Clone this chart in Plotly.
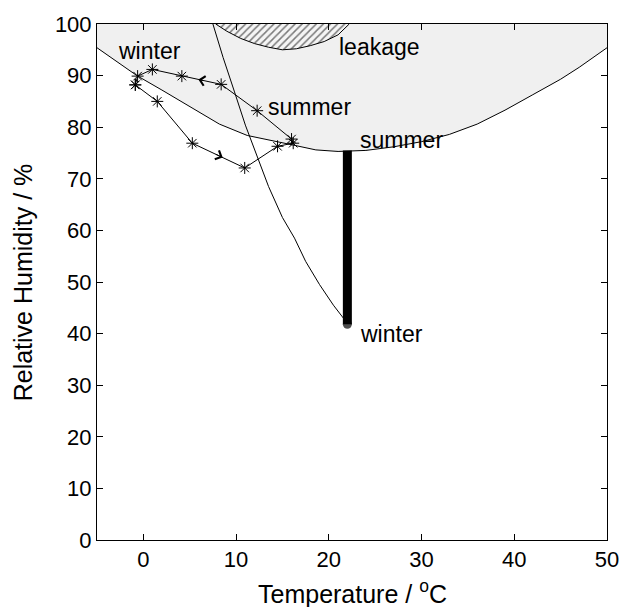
import plotly.graph_objects as go

# ---------------- data ----------------
# lower boundary of shaded region (Temperature degC, RH %)
boundary_T = [-5, -2, -0.7, 2, 5, 8.2, 11.2, 14, 16, 18.6, 21, 24, 27, 30, 33, 36, 39, 42, 45, 47, 50]
boundary_RH = [95.4, 91.6, 90.0, 87.2, 84.0, 80.6, 78.4, 77.4, 76.6, 75.6, 75.3, 75.5, 76.2, 77.2, 78.6, 80.6, 83.3, 86.3, 89.3, 91.6, 95.4]

# hatched "leakage" region
leak_T = [7.8, 9.0, 10.5, 12.0, 13.5, 15.0, 16.5, 18.0, 19.5, 21.0, 22.2]
leak_RH = [100, 98.6, 97.2, 96.2, 95.5, 95.0, 95.2, 95.8, 96.6, 97.9, 100]

# monthly loop (spring path then autumn path)
loop_T = [-0.87, 1.5, 5.28, 10.93, 14.47, 16.16, 15.98, 12.27, 8.39, 4.15, 0.97, -0.62]
loop_RH = [88.2, 85.0, 76.9, 72.1, 76.3, 76.9, 77.7, 83.2, 88.3, 89.9, 91.2, 89.9]

# path from winter indoor state upward
path_T = [22.0, 20.5, 19.0, 17.5, 16.3, 15.0, 13.5, 12.3, 11.0, 9.8, 8.6, 7.5]
path_RH = [42.0, 45.5, 49.5, 54.0, 58.5, 62.5, 68.5, 74.2, 80.4, 87.0, 93.5, 100.0]

# indoor range bar
bar_T = [22.0, 22.0]
bar_RH = [41.8, 75.5]

# arrows: segment start index -> arrow at segment midpoint along path direction
loop_arrow_segments = [2, 8]
path_arrow_segments = [3]

# text labels
label_text = ["winter", "leakage", "summer", "summer", "winter"]
label_T = [-3.0, 20.9, 13.2, 23.1, 23.2]
label_RH = [94.8, 95.5, 83.9, 77.6, 40.0]

x_ticks = [0, 10, 20, 30, 40, 50]
y_ticks = [0, 10, 20, 30, 40, 50, 60, 70, 80, 90, 100]

FONT = "Liberation Sans, Arial, sans-serif"
FS_TICK = 22
FS_TEXT = 23
FS_TITLE = 25

fig = go.Figure()

# shaded region above the boundary
fig.add_trace(go.Scatter(
    x=boundary_T + [boundary_T[-1], boundary_T[0]],
    y=boundary_RH + [100, 100],
    fill="toself", fillcolor="rgb(240,240,240)",
    line=dict(width=0), mode="lines", hoverinfo="skip", showlegend=False))
fig.add_trace(go.Scatter(x=boundary_T, y=boundary_RH, mode="lines",
                         line=dict(color="black", width=1), showlegend=False))

# hatched region
fig.add_trace(go.Scatter(
    x=leak_T, y=leak_RH, fill="toself", mode="lines",
    fillcolor="rgb(245,245,245)",
    fillpattern=dict(shape="/", fgcolor="black", bgcolor="rgb(245,245,245)", size=5, solidity=0.3),
    line=dict(color="black", width=1), showlegend=False))

# loop
fig.add_trace(go.Scatter(
    x=loop_T + [loop_T[0]], y=loop_RH + [loop_RH[0]], mode="lines+markers",
    line=dict(color="black", width=1),
    marker=dict(symbol="asterisk-open", size=10, color="black", line=dict(color="black", width=1)),
    showlegend=False))

# path
fig.add_trace(go.Scatter(x=path_T, y=path_RH, mode="lines",
                         line=dict(color="black", width=1), showlegend=False))

# bar
fig.add_trace(go.Scatter(x=bar_T, y=bar_RH, mode="lines+markers",
                         line=dict(color="black", width=9),
                         marker=dict(symbol="circle", size=[9, 0], color="black", line=dict(width=0)),
                         showlegend=False))

# arrows
def add_arrow(xs, ys, i):
    x0, y0, x1, y1 = xs[i], ys[i], xs[i + 1], ys[i + 1]
    mx, my = (x0 + x1) / 2, (y0 + y1) / 2
    dx, dy = (x1 - x0) * 0.08, (y1 - y0) * 0.08
    fig.add_annotation(x=mx + dx, y=my + dy, ax=mx - dx, ay=my - dy,
                       xref="x", yref="y", axref="x", ayref="y",
                       showarrow=True, arrowhead=4, arrowsize=1.9, arrowwidth=1,
                       arrowcolor="black", standoff=0, startstandoff=0, text="")

for i in loop_arrow_segments:
    add_arrow(loop_T, loop_RH, i)
for i in path_arrow_segments:
    add_arrow(path_T, path_RH, i)

for t, xv, yv in zip(label_text, label_T, label_RH):
    fig.add_annotation(x=xv, y=yv, text=t, showarrow=False, xanchor="left", yanchor="middle",
                       font=dict(family=FONT, size=FS_TEXT, color="black"))

# axis titles
fig.add_annotation(x=0.5, y=-(593 - 540) / 521, xref="paper", yref="paper",
                   text="Temperature / <sup>o</sup>C", showarrow=False,
                   xanchor="center", yanchor="middle",
                   font=dict(family=FONT, size=FS_TITLE, color="black"))
fig.add_annotation(x=-(97 - 22) / 519, y=0.5, xref="paper", yref="paper",
                   text="Relative Humidity / %", showarrow=False, textangle=-90,
                   xanchor="center", yanchor="middle",
                   font=dict(family=FONT, size=FS_TITLE, color="black"))

axis_common = dict(showline=True, linecolor="black", linewidth=1, mirror="ticks",
                   ticks="inside", ticklen=6, tickcolor="black", showgrid=False, zeroline=False,
                   tickfont=dict(family=FONT, size=FS_TICK, color="black"))

fig.update_layout(
    width=631, height=607,
    margin=dict(l=97, r=15, t=19, b=67),
    paper_bgcolor="white", plot_bgcolor="white",
    font=dict(family=FONT, size=FS_TICK, color="black"),
    xaxis=dict(range=[-5, 50], tickvals=x_ticks, ticktext=[str(v) for v in x_ticks], **axis_common),
    yaxis=dict(range=[0, 100], tickvals=y_ticks, ticktext=[str(v) for v in y_ticks], **axis_common),
)

fig.write_html("out.html")
